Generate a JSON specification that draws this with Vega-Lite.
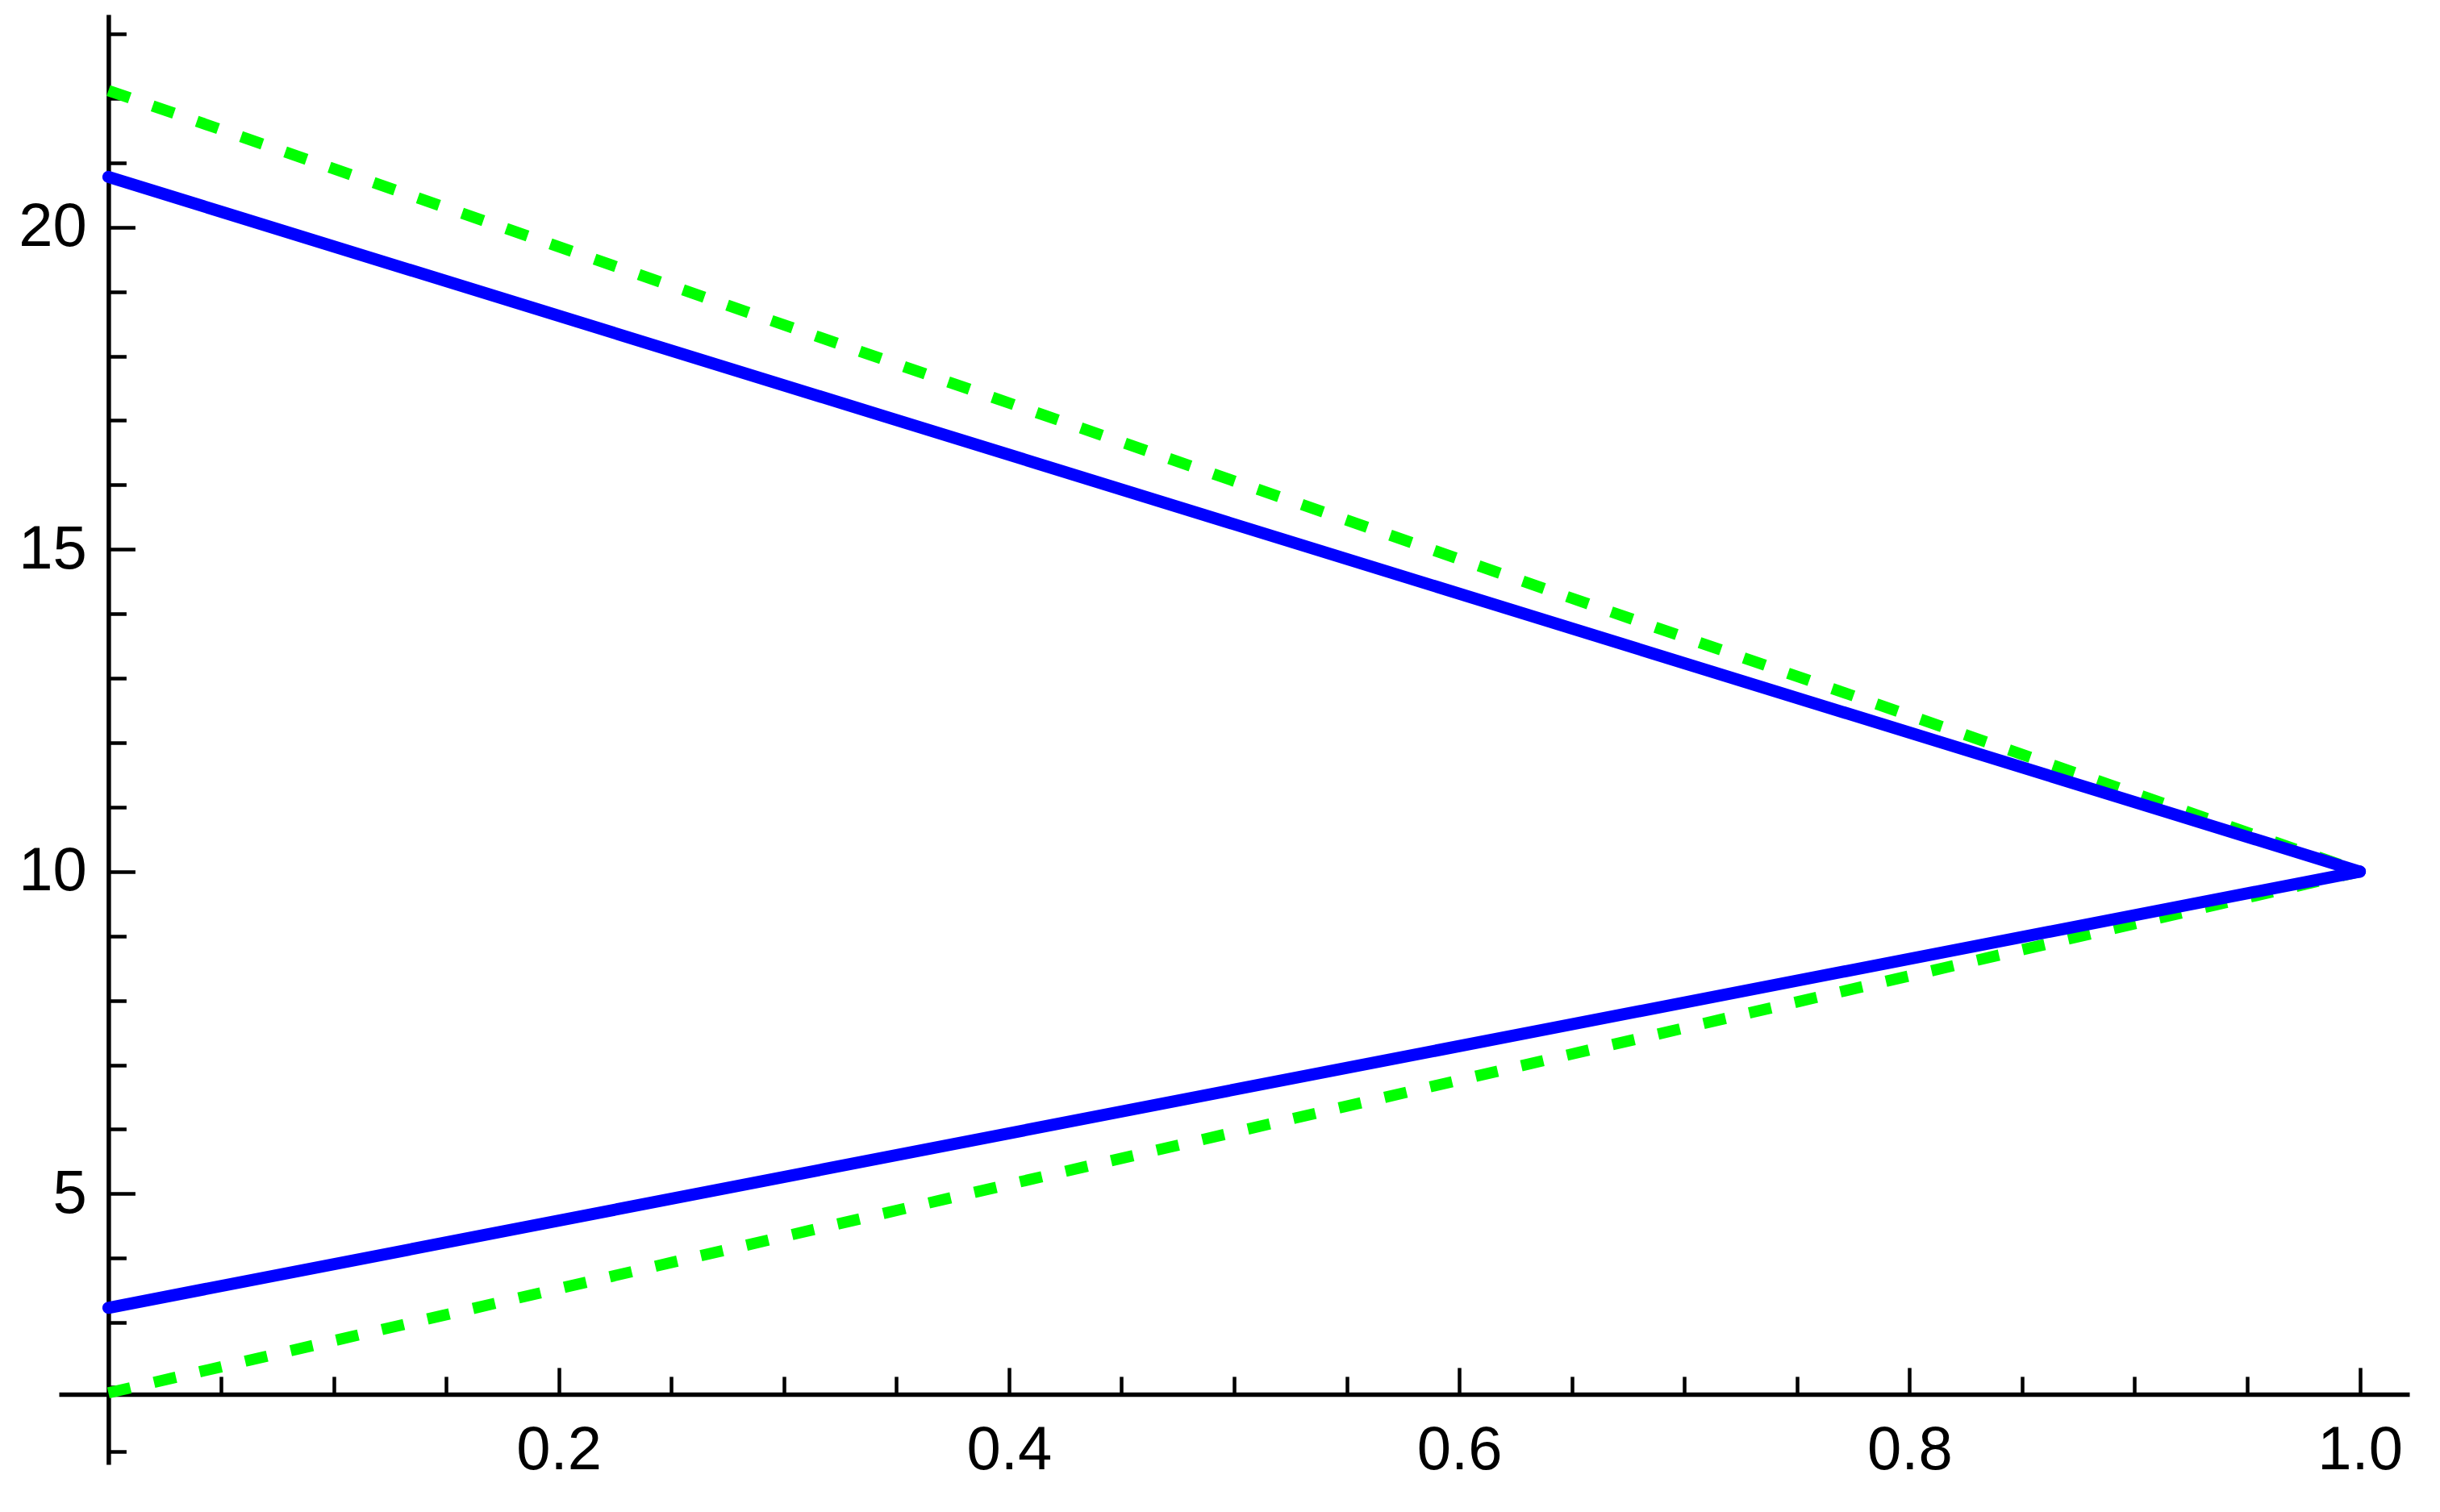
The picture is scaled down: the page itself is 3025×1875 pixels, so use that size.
{
  "$schema": "https://vega.github.io/schema/vega-lite/v6.json",
  "width": 2914,
  "height": 1798,
  "autosize": {"type": "none"},
  "padding": {"left": 73, "top": 18, "right": 38, "bottom": 59},
  "background": "white",
  "config": {
    "view": {"stroke": null},
    "axis": {
      "grid": false,
      "labelFont": "Liberation Sans",
      "labelFontSize": 76,
      "labelColor": "black",
      "domainColor": "black",
      "tickColor": "black",
      "title": null
    }
  },
  "data": {
    "values": [
      {"series": "green", "seg": "upper", "x": 0, "y": 22.12},
      {"series": "green", "seg": "upper", "x": 1, "y": 10},
      {"series": "green", "seg": "lower", "x": 0, "y": 1.91},
      {"series": "green", "seg": "lower", "x": 1, "y": 10},
      {"series": "blue", "seg": "upper", "x": 0, "y": 20.78},
      {"series": "blue", "seg": "upper", "x": 1, "y": 10},
      {"series": "blue", "seg": "lower", "x": 0, "y": 3.23},
      {"series": "blue", "seg": "lower", "x": 1, "y": 10}
    ]
  },
  "layer": [
    {
      "transform": [{"filter": "datum.series === 'green'"}],
      "mark": {"type": "line", "color": "#00ff00", "strokeWidth": 14, "strokeDash": [28, 30], "strokeCap": "butt"},
      "encoding": {
        "x": {
          "field": "x", "type": "quantitative",
          "scale": {"domain": [-0.022, 1.022], "nice": false, "zero": false},
          "axis": {
            "orient": "bottom", "offset": -87.1,
            "values": [0.05, 0.1, 0.15, 0.25, 0.3, 0.35, 0.45, 0.5, 0.55, 0.65, 0.7, 0.75, 0.85, 0.9, 0.95],
            "tickSize": -22, "tickWidth": 4.5, "labels": false, "domain": false
          }
        },
        "y": {
          "field": "y", "type": "quantitative",
          "scale": {"domain": [0.8, 23.3], "nice": false, "zero": false},
          "axis": {
            "orient": "left", "offset": -61.4,
            "values": [1, 2, 3, 4, 6, 7, 8, 9, 11, 12, 13, 14, 16, 17, 18, 19, 21, 22, 23],
            "tickSize": -22, "tickWidth": 4.5, "labels": false, "domain": false
          }
        },
        "detail": {"field": "seg", "type": "nominal"}
      }
    },
    {
      "transform": [{"filter": "datum.series === 'blue'"}],
      "mark": {"type": "line", "color": "#0000ff", "strokeWidth": 15, "strokeCap": "round"},
      "encoding": {
        "x": {
          "field": "x", "type": "quantitative",
          "scale": {"domain": [-0.022, 1.022], "nice": false, "zero": false},
          "axis": {
            "orient": "bottom", "offset": -87.1,
            "values": [0.2, 0.4, 0.6, 0.8, 1.0], "format": ".1f",
            "tickSize": -33, "tickWidth": 4.5, "labelPadding": 66,
            "domainWidth": 5.5
          }
        },
        "y": {
          "field": "y", "type": "quantitative",
          "scale": {"domain": [0.8, 23.3], "nice": false, "zero": false},
          "axis": {
            "orient": "left", "offset": -61.4,
            "values": [5, 10, 15, 20], "format": "d",
            "tickSize": -33, "tickWidth": 4.5, "labelPadding": 60,
            "domainWidth": 5.5
          }
        },
        "detail": {"field": "seg", "type": "nominal"}
      }
    }
  ],
  "resolve": {"axis": {"x": "independent", "y": "independent"}}
}
